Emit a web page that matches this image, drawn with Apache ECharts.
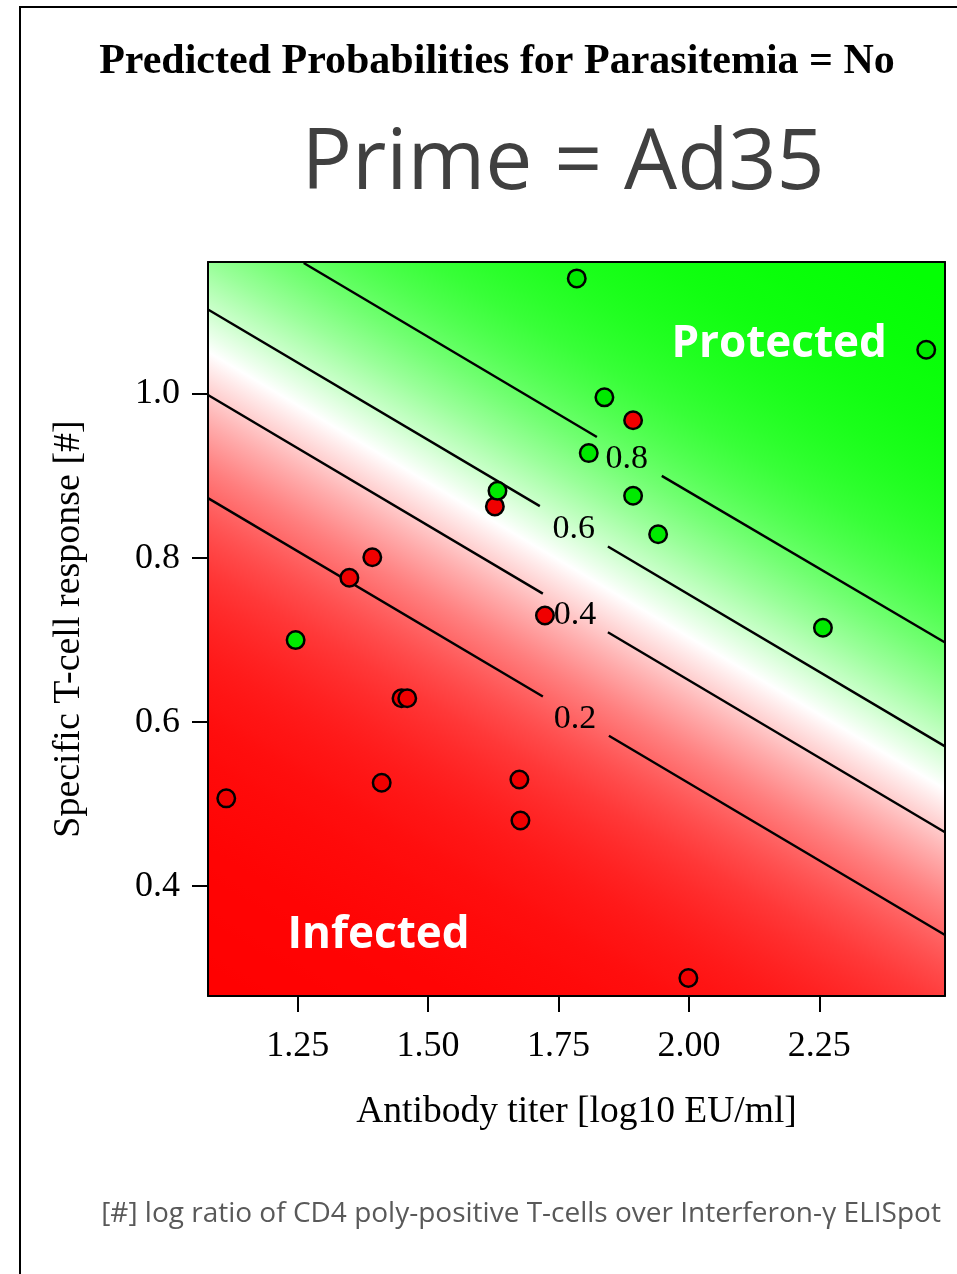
<!DOCTYPE html>
<html><head><meta charset="utf-8">
<script src="https://cdn.jsdelivr.net/npm/echarts@6/dist/echarts.min.js"></script>
<style>html,body{margin:0;padding:0;background:#fff}#c{width:957px;height:1274px}</style>
</head><body><div id="c"></div>
<script>
// ---- data ----
const xTicks = [1.25, 1.50, 1.75, 2.00, 2.25];
const yTicks = [0.4, 0.6, 0.8, 1.0];
const xRange = [1.078, 2.491];
const yRange = [0.266, 1.161];

// Outcome: Parasitemia = No (protected, green) / Yes (infected, red)
const protectedPts = [
  [1.785, 1.141], [2.455, 1.054], [1.838, 0.996], [1.808, 0.928], [1.893, 0.876],
  [1.633, 0.882], [1.941, 0.829], [2.257, 0.715], [1.246, 0.700]
];
const infectedPts = [
  [1.893, 0.968], [1.628, 0.863], [1.393, 0.801], [1.349, 0.776], [1.724, 0.730],
  [1.449, 0.629], [1.460, 0.629], [1.113, 0.507], [1.411, 0.526], [1.675, 0.530],
  [1.677, 0.480], [1.999, 0.288]
];

// Contour lines of predicted probability (two segments each, broken at the label)
const contourLevels = ['0.2', '0.4', '0.6', '0.8'];
const contour02 = [[[1.078, 0.8731], [1.720, 0.6311]], [[1.8466, 0.5834], [2.491, 0.3404]]];
const contour04 = [[[1.078, 0.9988], [1.720, 0.7566]], [[1.8447, 0.7095], [2.491, 0.4657]]];
const contour06 = [[[1.078, 1.1031], [1.7142, 0.8633]], [[1.8447, 0.8142], [2.491, 0.5704]]];
const contour08 = [[[1.2615, 1.1598], [1.8236, 0.9477]], [[1.948, 0.9002], [2.491, 0.6970]]];
const contourLabelPos = [[1.7814, 0.6032], [1.7814, 0.7310], [1.7794, 0.8356], [1.881, 0.9208]];

const regionNames = ['Protected', 'Infected'];
const regionPos = [[2.173, 1.0608], [1.405, 0.3404]];

// ---- chart ----
const chart = echarts.init(document.getElementById('c'), null, {renderer: 'canvas'});

function renderBackground(params, api) {
  const cs = params.coordSys;
  const a0 = api.coord(contour02[0][0]);
  const a1 = api.coord(contour02[1][1]);
  const b0 = api.coord(contour08[0][0]);
  let dx = a1[0] - a0[0], dy = a1[1] - a0[1];
  const L = Math.hypot(dx, dy); dx /= L; dy /= L;
  const nx = dy, ny = -dx;
  const proj = p => (p[0] - a0[0]) * nx + (p[1] - a0[1]) * ny;
  const d08 = proj(b0);
  const corners = [[cs.x, cs.y], [cs.x + cs.width, cs.y], [cs.x, cs.y + cs.height], [cs.x + cs.width, cs.y + cs.height]];
  const ds = corners.map(proj);
  const dMin = Math.min.apply(null, ds), dMax = Math.max.apply(null, ds);
  const lo = Math.log(0.2 / 0.8), hi = Math.log(0.8 / 0.2);
  const stops = [];
  const N = 80;
  for (let i = 0; i <= N; i++) {
    const t = i / N;
    const d = dMin + t * (dMax - dMin);
    const l = lo + d / d08 * (hi - lo);
    const p = 1 / (1 + Math.exp(-l));
    let r, g, b;
    if (p < 0.5) { r = 255; g = b = Math.round(510 * p); }
    else { g = 255; r = b = Math.round(510 * (1 - p)); }
    stops.push({offset: t, color: 'rgb(' + r + ',' + g + ',' + b + ')'});
  }
  const x1 = a0[0] + nx * dMin, y1 = a0[1] + ny * dMin;
  const x2 = a0[0] + nx * dMax, y2 = a0[1] + ny * dMax;
  return {
    type: 'rect',
    shape: {x: cs.x, y: cs.y, width: cs.width, height: cs.height},
    style: {fill: new echarts.graphic.LinearGradient(x1, y1, x2, y2, stops, true)}
  };
}

const contourSegments = [].concat(contour02, contour04, contour06, contour08).map(s => ({coords: s}));

const serif = '"Liberation Serif", "Times New Roman", serif';
const sans = '"Open Sans", "Noto Sans", sans-serif';

const option = {
  animation: false,
  backgroundColor: '#fff',
  grid: {left: 208, top: 262, right: 12, bottom: 278, containLabel: false},
  xAxis: [{
    type: 'value', min: xRange[0], max: xRange[1], position: 'bottom', z: 10,
    axisLine: {show: true, onZero: false, lineStyle: {color: '#000', width: 2}},
    axisTick: {show: true, customValues: xTicks, length: 16, lineStyle: {color: '#000', width: 2}},
    axisLabel: {show: true, customValues: xTicks, formatter: v => v.toFixed(2), color: '#000',
      fontFamily: serif, fontSize: 36, margin: 33},
    splitLine: {show: false},
    name: 'Antibody titer [log10 EU/ml]', nameLocation: 'middle', nameGap: 97,
    nameTextStyle: {color: '#000', fontFamily: serif, fontSize: 37.5}
  }, {
    type: 'value', min: xRange[0], max: xRange[1], position: 'top', z: 10,
    axisLine: {show: true, onZero: false, lineStyle: {color: '#000', width: 2}},
    axisTick: {show: false}, axisLabel: {show: false}, splitLine: {show: false}
  }],
  yAxis: [{
    type: 'value', min: yRange[0], max: yRange[1], position: 'left', z: 10,
    axisLine: {show: true, onZero: false, lineStyle: {color: '#000', width: 2}},
    axisTick: {show: true, customValues: yTicks, length: 16, lineStyle: {color: '#000', width: 2}},
    axisLabel: {show: true, customValues: yTicks, formatter: v => v.toFixed(1), color: '#000',
      fontFamily: serif, fontSize: 36, margin: 28},
    splitLine: {show: false},
    name: 'Specific T-cell response [#]', nameLocation: 'middle', nameGap: 120, nameRotate: 90,
    nameTextStyle: {color: '#000', fontFamily: serif, fontSize: 38}
  }, {
    type: 'value', min: yRange[0], max: yRange[1], position: 'right', z: 10,
    axisLine: {show: true, onZero: false, lineStyle: {color: '#000', width: 2}},
    axisTick: {show: false}, axisLabel: {show: false}, splitLine: {show: false}
  }],
  series: [
    {type: 'custom', coordinateSystem: 'cartesian2d', data: [[xRange[0], yRange[0]]],
     renderItem: renderBackground, silent: true, z: 1, clip: true},
    {type: 'lines', coordinateSystem: 'cartesian2d', polyline: false, data: contourSegments,
     lineStyle: {color: '#000', width: 2.4, opacity: 1}, silent: true, z: 3},
    {type: 'custom', coordinateSystem: 'cartesian2d', silent: true, z: 4,
     data: contourLabelPos.map((p, i) => [p[0], p[1], i]),
     renderItem: (params, api) => {
       const c = api.coord([api.value(0), api.value(1)]);
       return {type: 'text', x: c[0], y: c[1], style: {text: contourLevels[api.value(2)],
         fill: '#000', font: '34px ' + serif, align: 'center', verticalAlign: 'middle'}};
     }},
    {type: 'custom', coordinateSystem: 'cartesian2d', silent: true, z: 4,
     data: regionPos.map((p, i) => [p[0], p[1], i]),
     renderItem: (params, api) => {
       const c = api.coord([api.value(0), api.value(1)]);
       return {type: 'text', x: c[0], y: c[1], style: {text: regionNames[api.value(2)],
         fill: '#fff', font: 'bold 44px ' + sans, align: 'center', verticalAlign: 'middle'}};
     }},
    {type: 'scatter', name: 'Infected', data: infectedPts, symbol: 'circle', symbolSize: 17.5, z: 5,
     itemStyle: {color: '#f00000', borderColor: '#000', borderWidth: 2.5, opacity: 1}},
    {type: 'scatter', name: 'Protected', data: protectedPts, symbol: 'circle', symbolSize: 17.5, z: 5,
     itemStyle: {color: '#00ea00', borderColor: '#000', borderWidth: 2.5, opacity: 1}}
  ],
  graphic: [
    {type: 'line', shape: {x1: 19, y1: 7, x2: 957, y2: 7}, style: {stroke: '#000', lineWidth: 2}},
    {type: 'line', shape: {x1: 20, y1: 6, x2: 20, y2: 1274}, style: {stroke: '#000', lineWidth: 2}},
    {type: 'text', x: 497, y: 62, style: {text: 'Predicted Probabilities for Parasitemia = No',
      font: 'bold 42px ' + serif, fill: '#000', align: 'center', verticalAlign: 'middle'}},
    {type: 'text', x: 563, y: 165, style: {text: 'Prime = Ad35',
      font: '84px ' + sans, fill: '#404040', align: 'center', verticalAlign: 'middle'}},
    {type: 'text', x: 521, y: 1214, style: {text: '[#] log ratio of CD4 poly-positive T-cells over Interferon-γ ELISpot',
      font: '28px ' + sans, fill: '#595959', align: 'center', verticalAlign: 'middle'}}
  ]
};
chart.setOption(option);
</script>
</body></html>
